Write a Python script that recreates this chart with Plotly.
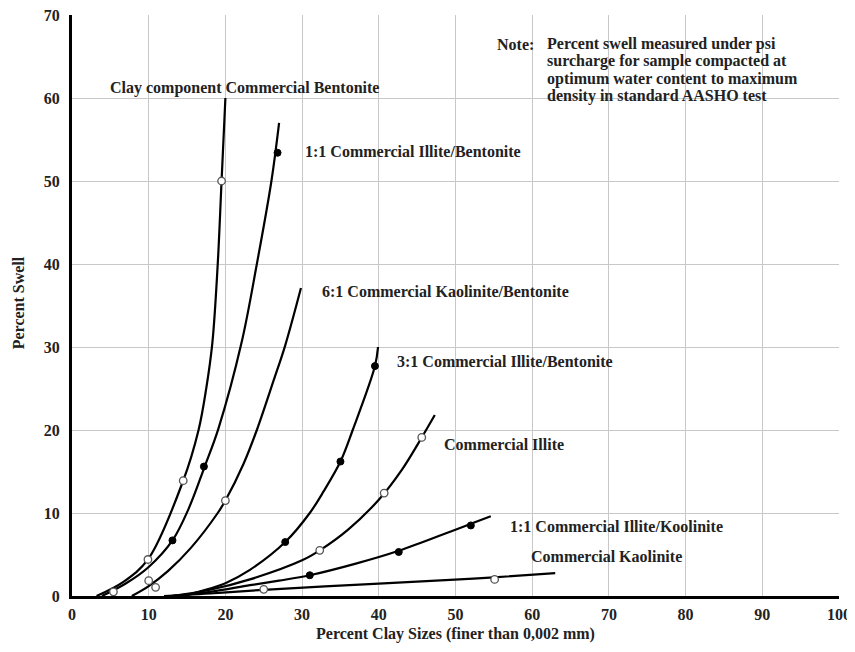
import plotly.graph_objects as go

# ---- Curve data ----
bent_x = [3.2, 6.7, 9.9, 14.5, 16.5, 17.5, 18.3, 19.0, 19.5, 20.0]
bent_y = [0.0, 1.7, 4.4, 13.9, 20.0, 25.0, 30.5, 40.0, 50.0, 60.0]
bent_px = [5.4, 9.9, 14.5, 19.5]
bent_py = [0.5, 4.4, 13.9, 50.0]

ib11_x = [3.9, 7.0, 10.0, 13.1, 15.2, 17.3, 19.1, 22.1, 24.1, 26.0, 27.0]
ib11_y = [0.0, 1.5, 3.5, 6.7, 10.5, 15.6, 20.2, 30.5, 40.0, 50.0, 57.0]
ib11_px = [13.1, 17.2, 26.8]
ib11_py = [6.7, 15.6, 53.4]

kb61_x = [7.8, 10.0, 12.5, 15.5, 19.0, 20.0, 22.4, 24.1, 26.3, 27.8, 29.85]
kb61_y = [0.0, 1.2, 3.0, 5.8, 10.0, 11.5, 16.0, 20.0, 26.0, 30.2, 37.1]
kb61_px = [10.0, 10.9, 20.0]
kb61_py = [1.85, 1.05, 11.5]

ib31_x = [14.5, 18.0, 20.0, 23.2, 27.8, 31.0, 32.8, 35.0, 36.6, 39.5, 39.9]
ib31_y = [0.0, 0.9, 1.55, 3.15, 6.5, 10.0, 12.6, 16.2, 20.0, 27.7, 30.0]
ib31_px = [27.8, 35.0, 39.5]
ib31_py = [6.5, 16.2, 27.7]

ill_x = [13.0, 18.0, 23.2, 30.0, 32.3, 36.0, 40.0, 43.0, 45.6, 47.3]
ill_y = [0.0, 0.75, 2.0, 4.3, 5.5, 8.0, 11.6, 15.2, 19.1, 21.8]
ill_px = [32.3, 40.7, 45.6]
ill_py = [5.5, 12.4, 19.1]

ik11_x = [13.0, 18.0, 23.2, 27.0, 31.0, 37.0, 42.6, 49.3, 52.0, 54.6]
ik11_y = [0.0, 0.5, 1.3, 1.85, 2.5, 3.9, 5.45, 7.75, 8.7, 9.6]
ik11_px = [31.0, 42.6, 52.0]
ik11_py = [2.5, 5.3, 8.5]

kao_x = [12.0, 18.0, 25.0, 40.0, 49.3, 55.0, 63.0]
kao_y = [0.0, 0.3, 0.75, 1.5, 1.95, 2.25, 2.75]
kao_px = [25.0, 55.1]
kao_py = [0.8, 2.0]

labels = [
    ("Clay component Commercial Bentonite", 4.7, 61.2),
    ("1:1 Commercial Illite/Bentonite", 30.1, 53.5),
    ("6:1 Commercial Kaolinite/Bentonite", 32.3, 36.7),
    ("3:1 Commercial Illite/Bentonite", 42.1, 28.2),
    ("Commercial Illite", 48.3, 18.3),
    ("1:1 Commercial Illite/Koolinite", 56.9, 8.4),
    ("Commercial Kaolinite", 59.6, 4.8),
]
note_lines = [
    "Percent swell measured under psi",
    "surcharge for sample compacted at",
    "optimum water content to maximum",
    "density in standard AASHO test",
]
note_y = [66.5, 64.4, 62.3, 60.3]

FONT = "Liberation Serif, Times New Roman, serif"
TXT = "#222222"
FS = 16

fig = go.Figure()

curves = [
    (bent_x, bent_y, bent_px, bent_py, "open"),
    (ib11_x, ib11_y, ib11_px, ib11_py, "filled"),
    (kb61_x, kb61_y, kb61_px, kb61_py, "open"),
    (ib31_x, ib31_y, ib31_px, ib31_py, "filled"),
    (ill_x, ill_y, ill_px, ill_py, "open"),
    (ik11_x, ik11_y, ik11_px, ik11_py, "filled"),
    (kao_x, kao_y, kao_px, kao_py, "open"),
]

for cx, cy, px, py, kind in curves:
    fig.add_trace(go.Scatter(x=cx, y=cy, mode="lines",
                             line=dict(color="black", width=2.2, shape="spline", smoothing=1.0),
                             hoverinfo="skip", showlegend=False))
for cx, cy, px, py, kind in curves:
    if kind == "open":
        mk = dict(symbol="circle", size=7.5, color="white", line=dict(color="#555555", width=1.3))
    else:
        mk = dict(symbol="circle", size=7, color="black", line=dict(color="black", width=1))
    fig.add_trace(go.Scatter(x=px, y=py, mode="markers", marker=mk,
                             showlegend=False, cliponaxis=False))

def bold_font():
    return dict(family=FONT, size=FS, color=TXT, weight="bold")

annos = []
for text, x, y in labels:
    annos.append(dict(x=x, y=y, xref="x", yref="y", text=text, showarrow=False,
                      xanchor="left", yanchor="middle", font=bold_font()))
annos.append(dict(x=55.1, y=note_y[0], xref="x", yref="y", text="Note:", showarrow=False,
                  xanchor="left", yanchor="middle", font=bold_font()))
for t, yv in zip(note_lines, note_y):
    annos.append(dict(x=61.7, y=yv, xref="x", yref="y", text=t, showarrow=False,
                      xanchor="left", yanchor="middle", font=bold_font()))
# axis titles
annos.append(dict(x=0.5, y=-0.065, xref="paper", yref="paper",
                  text="Percent Clay Sizes (finer than 0,002 mm)", showarrow=False,
                  xanchor="center", yanchor="middle", font=bold_font()))
annos.append(dict(x=-0.0695, y=0.505, xref="paper", yref="paper",
                  text="Percent Swell", showarrow=False, textangle=-90,
                  xanchor="center", yanchor="middle", font=bold_font()))

# the page body has an 8px margin, so the figure is drawn 8px in from the window edge;
# keep the page within the window so no scrollbar appears
fig.update_layout(
    width=847, height=636,
    margin=dict(l=64, r=16, t=7, b=48, autoexpand=False),
    paper_bgcolor="white", plot_bgcolor="white",
    annotations=annos,
    font=dict(family=FONT, color=TXT),
)
fig.update_xaxes(range=[0, 100], dtick=10, tick0=0, showgrid=True, gridcolor="#c8c8c8", gridwidth=1,
                 showline=True, linecolor="black", linewidth=3, zeroline=False, ticks="",
                 automargin=False, tickfont=bold_font(), ticklabelstandoff=2,
                 ticklabeloverflow="allow")
fig.update_yaxes(range=[0, 70], dtick=10, tick0=0, showgrid=True, gridcolor="#c8c8c8", gridwidth=1,
                 showline=True, linecolor="black", linewidth=3, zeroline=False, ticks="",
                 automargin=False, tickfont=bold_font(), ticklabelstandoff=6,
                 ticklabeloverflow="allow")

fig.write_html("out.html")
